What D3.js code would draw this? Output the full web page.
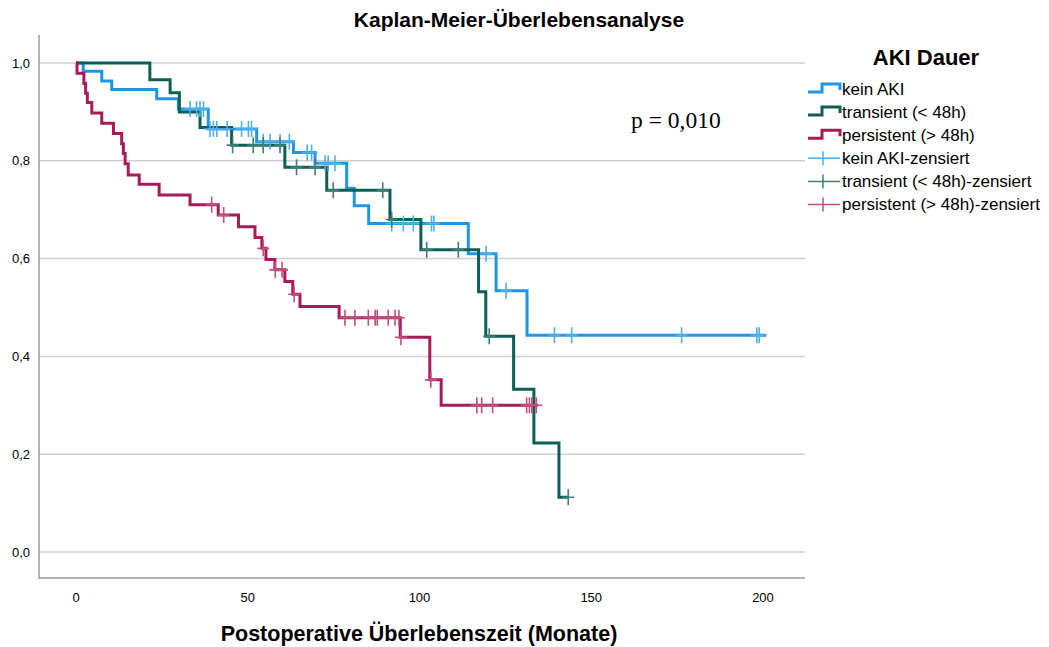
<!DOCTYPE html>
<html>
<head>
<meta charset="utf-8">
<script src="https://cdn.jsdelivr.net/npm/d3@7/dist/d3.min.js"></script>
<style>
  body { margin: 0; background: #fff; }
  text { font-family: "Liberation Sans", Arial, sans-serif; fill: #000; }
</style>
</head>
<body>
<script>
// ---- data ----
const groupNames = ["kein AKI", "transient (< 48h)", "persistent (> 48h)"];

// kein AKI
const keinTimes = [0, 2.1, 7.5, 10.4, 23.5, 29.8, 38.5, 52.6, 63.3, 69.6, 78.8, 81.0, 85.2, 114.2, 122.3, 131.3];
const keinSurv  = [1, 0.983, 0.963, 0.946, 0.927, 0.906, 0.865, 0.839, 0.817, 0.795, 0.744, 0.708, 0.672, 0.610, 0.534, 0.443];
const keinEnd = 201;
const keinCensored = [33.2, 35.1, 36.1, 37.1, 39, 40, 41, 44, 48.2, 50.2, 51.1, 54.5, 56.5, 59.4, 62.1, 67.3, 68.6,
  72.5, 73.4, 75.4, 91.9, 95.3, 98.2, 103.5, 104.2, 119.4, 125.2, 139.3, 144.3, 176.3, 198.2, 198.9];

// transient (< 48h)
const transTimes = [0, 21.5, 27.4, 30.1, 36.1, 45.3, 60.8, 73.0, 91.4, 100.4, 117.2, 119.3, 127.4, 133.3, 140.6];
const transSurv  = [1, 0.966, 0.939, 0.900, 0.868, 0.832, 0.787, 0.740, 0.680, 0.618, 0.532, 0.441, 0.333, 0.223, 0.112];
const transEnd = 143.3;
const transCensored = [45.6, 51.6, 54.5, 59.4, 64.2, 69.6, 74.9, 89.3, 91.9, 102.1, 111.3, 120.3, 143.3];

// persistent (> 48h)
const persTimes = [0, 0.3, 2.3, 2.8, 3.3, 4.6, 7.5, 10.9, 13.3, 13.8, 14.3, 15.2, 18.4, 24.2, 33.2, 41.4, 47.3,
  52.1, 54.1, 55.3, 57.9, 60.8, 63.1, 65.2, 76.6, 94.4, 103.0, 106.3];
const persSurv  = [1, 0.979, 0.958, 0.938, 0.919, 0.898, 0.877, 0.856, 0.835, 0.815, 0.794, 0.771, 0.752, 0.730, 0.710, 0.689, 0.665,
  0.643, 0.621, 0.598, 0.577, 0.553, 0.527, 0.502, 0.479, 0.439, 0.352, 0.300];
const persEnd = 134.5;
const persCensored = [39.5, 43, 54.5, 58, 60, 63.5, 78.3, 81.2, 85.1, 87.1, 87.7, 90.9, 92.9, 94.0, 94.6, 103.3,
  116.7, 118.1, 121.3, 131.2, 132, 132.7, 134];

const xTicks = [0, 50, 100, 150, 200];
const yTicks = [0, 0.2, 0.4, 0.6, 0.8, 1.0];

const lineColors = ["#1e96e6", "#0d5e57", "#a51c59"];
const censorColors = ["#4db0f0", "#3d7f78", "#c24f7d"];

const series = [
  { name: groupNames[0], times: keinTimes, surv: keinSurv, end: keinEnd, cens: keinCensored },
  { name: groupNames[1], times: transTimes, surv: transSurv, end: transEnd, cens: transCensored },
  { name: groupNames[2], times: persTimes, surv: persSurv, end: persEnd, cens: persCensored }
];

// ---- layout ----
const W = 1049, H = 647;
const frame = { left: 39, right: 805, top: 35, bottom: 578 };

const svg = d3.select('body').append('svg')
    .attr('width', W)
    .attr('height', H);

const x = d3.scaleLinear().domain([0, 200]).range([76, 763]);
const y = d3.scaleLinear().domain([0, 1]).range([552, 63]);

const de = d3.formatLocale({ decimal: ",", thousands: ".", grouping: [3], currency: ["", "€"] });
const fmtY = de.format(".1f");

// gridlines
svg.append('g').selectAll('line')
    .data(yTicks)
    .join('line')
    .attr('x1', frame.left).attr('x2', frame.right)
    .attr('y1', d => y(d)).attr('y2', d => y(d))
    .attr('stroke', '#cfcfcf')
    .attr('stroke-width', 1.5);

// frame (left + bottom)
svg.append('path')
    .attr('d', `M${frame.left},${frame.top}V${frame.bottom}H${frame.right}`)
    .attr('fill', 'none')
    .attr('stroke', '#9a9a9a')
    .attr('stroke-width', 1.5);

// y tick labels
svg.append('g').selectAll('text')
    .data(yTicks)
    .join('text')
    .attr('x', 30)
    .attr('y', d => y(d))
    .attr('dy', '0.35em')
    .attr('text-anchor', 'end')
    .style('font-size', '13px')
    .text(d => fmtY(d));

// x tick labels
svg.append('g').selectAll('text')
    .data(xTicks)
    .join('text')
    .attr('x', d => x(d))
    .attr('y', 597)
    .attr('dy', '0.35em')
    .attr('text-anchor', 'middle')
    .style('font-size', '13px')
    .text(d => d);

// titles
svg.append('text')
    .attr('x', 519).attr('y', 27)
    .attr('text-anchor', 'middle')
    .style('font-size', '21px').style('font-weight', 'bold')
    .text('Kaplan-Meier-Überlebensanalyse');

svg.append('text')
    .attr('x', 419).attr('y', 641)
    .attr('text-anchor', 'middle')
    .style('font-size', '21.5px').style('font-weight', 'bold')
    .text('Postoperative Überlebenszeit (Monate)');

svg.append('text')
    .attr('x', 631).attr('y', 128)
    .style('font-family', '"Liberation Serif", "Times New Roman", serif')
    .style('font-size', '23.5px')
    .text('p = 0,010');

// survival curves
const line = d3.line()
    .x(d => x(d[0]))
    .y(d => y(d[1]))
    .curve(d3.curveStepAfter);

function survAt(s, t) {
    const i = d3.bisectRight(s.times, t) - 1;
    return s.surv[Math.max(i, 0)];
}

series.forEach((s, k) => {
    const pts = s.times.map((t, i) => [t, s.surv[i]]);
    pts.push([s.end, s.surv[s.surv.length - 1]]);
    svg.append('path')
        .datum(pts)
        .attr('d', line)
        .attr('fill', 'none')
        .attr('stroke', lineColors[k])
        .attr('stroke-width', 3);
});

// censor marks drawn on top
series.forEach((s, k) => {
    svg.append('g').selectAll('path')
        .data(s.cens)
        .join('path')
        .attr('d', t => {
            const cx = x(t), cy = y(survAt(s, t));
            return `M${cx - 6},${cy}H${cx + 6}M${cx},${cy - 8}V${cy + 8}`;
        })
        .attr('fill', 'none')
        .attr('stroke', censorColors[k])
        .attr('stroke-width', 1.6);
});

// legend
const lg = svg.append('g');
lg.append('text')
    .attr('x', 926).attr('y', 65)
    .attr('text-anchor', 'middle')
    .style('font-size', '22px').style('font-weight', 'bold')
    .text('AKI Dauer');

const legendItems = groupNames.map((n, i) => ({ label: n, color: lineColors[i], type: 'step' }))
    .concat(groupNames.map((n, i) => ({ label: n + '-zensiert', color: censorColors[i], type: 'cens' })));

const item = lg.selectAll('g.item')
    .data(legendItems)
    .join('g')
    .attr('class', 'item')
    .attr('transform', (d, i) => `translate(0,${89 + i * 23.1})`);

item.append('path')
    .attr('d', d => d.type === 'step'
        ? 'M808,3H822V-5H840V1'
        : 'M808,0H840M823,-7V7')
    .attr('fill', 'none')
    .attr('stroke', d => d.color)
    .attr('stroke-width', d => d.type === 'step' ? 3 : 1.5);

item.append('text')
    .attr('x', 842)
    .attr('y', 0)
    .attr('dy', '0.35em')
    .style('font-size', '17px')
    .text(d => d.label);
</script>
</body>
</html>
